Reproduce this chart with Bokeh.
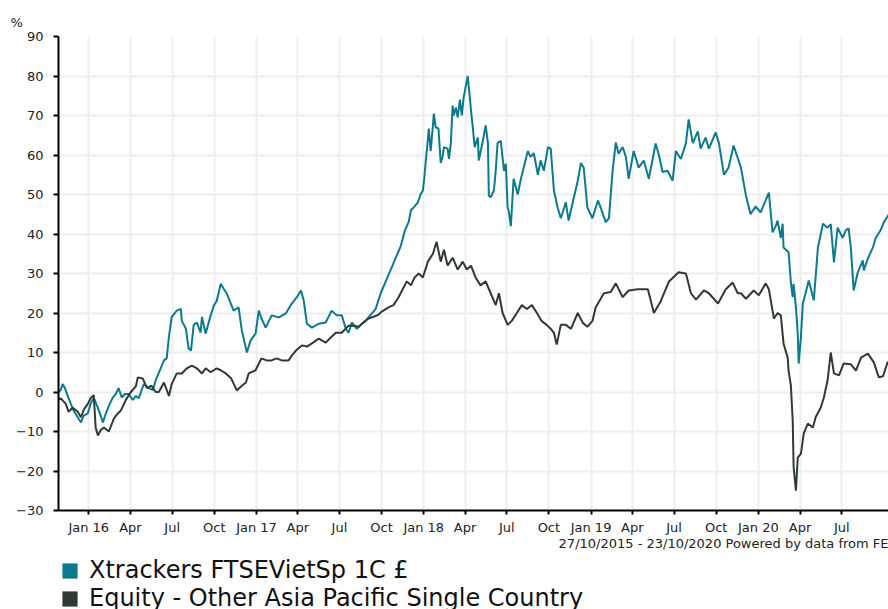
import pandas as pd
from bokeh.plotting import figure
from bokeh.layouts import column
from bokeh.models import Range1d, FixedTicker, Legend, LegendItem, Title
from bokeh.embed import file_html
from bokeh.resources import INLINE

series_names = ["Xtrackers FTSEVietSp 1C £", "Equity - Other Asia Pacific Single Country"]
series_colors = ["#0A7A8C", "#2F3A37"]

fund_dates = [
    "2015-10-27", "2015-11-01", "2015-11-05", "2015-11-10", "2015-11-16", "2015-11-23", "2015-11-29",
    "2015-12-08", "2015-12-15", "2015-12-21", "2015-12-30", "2016-01-05", "2016-01-12", "2016-01-21",
    "2016-01-27", "2016-02-01", "2016-02-07", "2016-02-14", "2016-02-22", "2016-02-29", "2016-03-06",
    "2016-03-13", "2016-03-20", "2016-03-28", "2016-04-06", "2016-04-13", "2016-04-19", "2016-04-30",
    "2016-05-11", "2016-05-20", "2016-05-26", "2016-06-06", "2016-06-13", "2016-06-19", "2016-06-24",
    "2016-06-30", "2016-07-11", "2016-07-20", "2016-07-22", "2016-07-31", "2016-08-06", "2016-08-11",
    "2016-08-17", "2016-08-24", "2016-09-01", "2016-09-04", "2016-09-12", "2016-09-23", "2016-09-30",
    "2016-10-06", "2016-10-15", "2016-10-22", "2016-10-28", "2016-11-06", "2016-11-12", "2016-11-23",
    "2016-11-30", "2016-12-11", "2016-12-19", "2016-12-30", "2017-01-06", "2017-01-12", "2017-01-21",
    "2017-02-03", "2017-02-19", "2017-03-06", "2017-03-19", "2017-03-30", "2017-04-08", "2017-04-14",
    "2017-04-21", "2017-05-02", "2017-05-17", "2017-06-01", "2017-06-14", "2017-06-25", "2017-07-06",
    "2017-07-15", "2017-07-21", "2017-07-28", "2017-08-08", "2017-08-17", "2017-08-27", "2017-09-07",
    "2017-09-18", "2017-09-29", "2017-10-10", "2017-10-21", "2017-11-01", "2017-11-12", "2017-11-21",
    "2017-11-29", "2017-12-04", "2017-12-12", "2017-12-19", "2017-12-25", "2017-12-30", "2018-01-02",
    "2018-01-05", "2018-01-10", "2018-01-12", "2018-01-16", "2018-01-21", "2018-01-23", "2018-01-27",
    "2018-02-02", "2018-02-07", "2018-02-11", "2018-02-14", "2018-02-22", "2018-02-25", "2018-03-01",
    "2018-03-05", "2018-03-07", "2018-03-12", "2018-03-16", "2018-03-21", "2018-03-25", "2018-03-29",
    "2018-04-07", "2018-04-14", "2018-04-18", "2018-04-22", "2018-04-29", "2018-05-01", "2018-05-10",
    "2018-05-16", "2018-05-21", "2018-05-23", "2018-05-27", "2018-06-03", "2018-06-07", "2018-06-11",
    "2018-06-18", "2018-06-25", "2018-06-29", "2018-07-03", "2018-07-05", "2018-07-10", "2018-07-16",
    "2018-07-25", "2018-08-01", "2018-08-07", "2018-08-16", "2018-08-22", "2018-08-29", "2018-09-07",
    "2018-09-13", "2018-09-20", "2018-09-29", "2018-10-05", "2018-10-12", "2018-10-20", "2018-10-27",
    "2018-11-07", "2018-11-13", "2018-11-24", "2018-12-03", "2018-12-10", "2018-12-16", "2018-12-24",
    "2019-01-04", "2019-01-16", "2019-01-22", "2019-02-02", "2019-02-09", "2019-02-17", "2019-02-24",
    "2019-03-02", "2019-03-11", "2019-03-18", "2019-03-24", "2019-04-04", "2019-04-15", "2019-04-26",
    "2019-05-07", "2019-05-22", "2019-05-29", "2019-06-06", "2019-06-17", "2019-06-28", "2019-07-05",
    "2019-07-16", "2019-07-27", "2019-08-02", "2019-08-11", "2019-08-22", "2019-08-28", "2019-09-08",
    "2019-09-15", "2019-09-30", "2019-10-07", "2019-10-18", "2019-10-28", "2019-11-08", "2019-11-24",
    "2019-12-05", "2019-12-15", "2019-12-26", "2020-01-06", "2020-01-17", "2020-01-24", "2020-02-01",
    "2020-02-08", "2020-02-12", "2020-02-19", "2020-02-23", "2020-02-25", "2020-03-07", "2020-03-12",
    "2020-03-16", "2020-03-18", "2020-03-23", "2020-03-27", "2020-03-29", "2020-04-03", "2020-04-07",
    "2020-04-13", "2020-04-20", "2020-05-01", "2020-05-10", "2020-05-21", "2020-05-31", "2020-06-07",
    "2020-06-14", "2020-06-22", "2020-07-03", "2020-07-10", "2020-07-16", "2020-07-21", "2020-07-27",
    "2020-08-05", "2020-08-16", "2020-08-18", "2020-08-27", "2020-09-07", "2020-09-13", "2020-09-24",
    "2020-10-01", "2020-10-12", "2020-10-23",
]
fund_values = [
    0, 0.5, 2, 1, -1, -3, -4.7,
    -6.4, -7.7, -6, -5.4, -3, -1.5, -4,
    -6, -7.7, -5.5, -3.5, -1.5, -0.5, 1,
    -1.4, -0.5, -0.5, -2, -1, -1.6, 2,
    1, 0.5, 3, 6, 8, 8.5, 14,
    19, 20.6, 21, 18, 16, 11, 10.5,
    17, 17.6, 15, 19, 14.8, 19.4, 21.9,
    23, 27.4, 26, 25, 22.4, 20.6, 21.4,
    15.6, 10, 13, 14.8, 20.6, 18.6, 16.3,
    19.4, 18.9, 19.9, 22.4, 24, 25.7, 23.2,
    17.3, 16.3, 17.3, 17.6, 20.6, 19.4, 19.4,
    16, 15, 17.6, 16, 17, 18, 19.5,
    21, 25, 28, 31, 34, 37, 41,
    43, 46, 47, 48, 50, 51, 54,
    58, 64, 66.7, 61, 67.5, 70.5, 67,
    66.7, 58, 59.5, 62, 61.6, 59, 63,
    72.5, 70, 72, 69.5, 74, 70, 74.6,
    80, 71.3, 67, 62, 64.4, 58.6, 63.6,
    67.5, 63, 49.7, 49.3, 51, 56, 63,
    63.6, 56, 57.8, 46.7, 46, 42, 54,
    50, 54, 56.8, 61, 59.5, 60.5, 55,
    58.6, 56, 62, 61.6, 51, 46.7, 44,
    48, 43.4, 49, 53.5, 58, 56.8, 46.7,
    44, 48.5, 46.7, 43, 44, 56, 63.2,
    60.3, 62, 59.5, 54, 61, 56.8, 58.6,
    54, 62.9, 60, 55.7, 56, 53.5, 61,
    59, 63, 69, 63, 66, 61.6, 64.4,
    61.6, 65.7, 63, 55, 56.8, 62.4, 56.8,
    49.7, 45, 47, 45.5, 48.5, 50.5, 40.4,
    42, 43.4, 39, 42.6, 36.6, 35.4, 27.7,
    24, 27.4, 21.4, 14.8, 7.2, 14, 22.4,
    25, 28.2, 23.2, 36.6, 42.6, 41.6, 42.5,
    32.8, 41.6, 39, 41, 41.4, 36.3, 25.7,
    30.3, 33.3, 30.8, 33.8, 36.6, 39, 41,
    43, 45, 46,
]

sector_dates = [
    "2015-10-27", "2015-11-01", "2015-11-12", "2015-11-18", "2015-11-27", "2015-12-08", "2015-12-15",
    "2015-12-21", "2015-12-30", "2016-01-05", "2016-01-12", "2016-01-16", "2016-01-21", "2016-01-27",
    "2016-02-03", "2016-02-14", "2016-02-25", "2016-03-04", "2016-03-11", "2016-03-22", "2016-04-02",
    "2016-04-13", "2016-04-17", "2016-04-28", "2016-05-07", "2016-05-17", "2016-05-26", "2016-06-02",
    "2016-06-13", "2016-06-24", "2016-06-30", "2016-07-11", "2016-07-22", "2016-08-02", "2016-08-13",
    "2016-08-24", "2016-09-04", "2016-09-12", "2016-09-23", "2016-10-06", "2016-10-15", "2016-10-26",
    "2016-11-07", "2016-11-19", "2016-11-30", "2016-12-09", "2016-12-15", "2016-12-30", "2017-01-06",
    "2017-01-12", "2017-01-23", "2017-02-03", "2017-02-14", "2017-02-25", "2017-03-12", "2017-03-19",
    "2017-03-28", "2017-04-10", "2017-04-21", "2017-05-02", "2017-05-17", "2017-06-01", "2017-06-12",
    "2017-06-23", "2017-07-06", "2017-07-21", "2017-08-01", "2017-08-12", "2017-08-21", "2017-09-01",
    "2017-09-12", "2017-09-23", "2017-10-03", "2017-10-17", "2017-10-27", "2017-11-07", "2017-11-16",
    "2017-11-25", "2017-12-04", "2017-12-12", "2017-12-21", "2017-12-30", "2018-01-10", "2018-01-21",
    "2018-01-29", "2018-02-07", "2018-02-14", "2018-02-22", "2018-03-05", "2018-03-16", "2018-03-27",
    "2018-04-05", "2018-04-14", "2018-04-24", "2018-05-05", "2018-05-16", "2018-05-27", "2018-06-07",
    "2018-06-14", "2018-06-22", "2018-07-03", "2018-07-12", "2018-07-23", "2018-08-03", "2018-08-14",
    "2018-08-25", "2018-09-05", "2018-09-15", "2018-09-26", "2018-10-05", "2018-10-12", "2018-10-18",
    "2018-10-27", "2018-11-07", "2018-11-18", "2018-12-03", "2018-12-14", "2018-12-24", "2019-01-04",
    "2019-01-11", "2019-01-29", "2019-02-13", "2019-02-24", "2019-03-11", "2019-03-24", "2019-04-13",
    "2019-05-05", "2019-05-18", "2019-06-02", "2019-06-20", "2019-07-11", "2019-07-27", "2019-08-07",
    "2019-08-18", "2019-09-04", "2019-09-15", "2019-10-05", "2019-10-22", "2019-11-06", "2019-11-17",
    "2019-11-24", "2019-12-05", "2019-12-22", "2020-01-02", "2020-01-17", "2020-01-24", "2020-02-01",
    "2020-02-04", "2020-02-12", "2020-02-19", "2020-02-25", "2020-03-05", "2020-03-07", "2020-03-12",
    "2020-03-16", "2020-03-18", "2020-03-23", "2020-03-27", "2020-04-03", "2020-04-09", "2020-04-18",
    "2020-04-29", "2020-05-05", "2020-05-16", "2020-05-23", "2020-05-31", "2020-06-07", "2020-06-14",
    "2020-06-25", "2020-07-05", "2020-07-21", "2020-08-01", "2020-08-12", "2020-08-27", "2020-09-09",
    "2020-09-20", "2020-09-29", "2020-10-09", "2020-10-23",
]
sector_values = [
    -2, -1.6, -3, -5, -4, -5, -6.4,
    -4.5, -3, -1.6, -0.8, -9, -11, -9.7,
    -9, -10, -6.7, -5.5, -4.7, -2, 0,
    1.5, 3.7, 3.4, 1, 1.6, 0, 0,
    2.4, -1, 2, 4.7, 4.7, 6, 6.7,
    6, 4.7, 6, 5, 6, 5.5, 4.7,
    3.4, 0.4, 1.6, 2.4, 4.7, 5.5, 7.2,
    8.5, 8, 8, 8.5, 8, 8, 9.2,
    10.5, 11.8, 11.5, 12.3, 13.5, 12.5, 13.8,
    15, 15, 16.8, 16.8, 16.5, 17.5, 18.5,
    19, 19.5, 20.5, 21.5, 22, 24, 26,
    28, 27, 29, 30, 29, 33, 35,
    38, 33, 36, 32, 34, 31, 33,
    31, 32, 29, 27, 28, 25, 22,
    25, 20, 17, 18, 20, 22, 21,
    22, 20, 18, 17, 16, 15, 12,
    17, 17, 16, 20, 17.5, 16.5, 18,
    21.4, 25, 25.3, 27.5, 24, 25.7, 26,
    26, 20, 23, 28, 30.3, 30, 25,
    23.4, 25.7, 25, 22.4, 26, 27.7, 25,
    25, 23.6, 25.7, 24.5, 27.5, 26, 20.6,
    18.6, 20, 19.4, 12.3, 8.7, 5.4, 1.6,
    -7.2, -19, -25, -16.6, -15.6, -10.5, -8,
    -9, -6.4, -4, -1.4, 2.9, 10, 4.7,
    4.2, 7.2, 7, 5.4, 8.7, 9.7, 7.5,
    3.7, 4, 7.5, 8,
]

tick_dates = [
    "2016-01-01", "2016-04-01", "2016-07-01", "2016-10-01",
    "2017-01-01", "2017-04-01", "2017-07-01", "2017-10-01",
    "2018-01-01", "2018-04-01", "2018-07-01", "2018-10-01",
    "2019-01-01", "2019-04-01", "2019-07-01", "2019-10-01",
    "2020-01-01", "2020-04-01", "2020-07-01",
]
tick_labels = [
    "Jan 16", "Apr", "Jul", "Oct",
    "Jan 17", "Apr", "Jul", "Oct",
    "Jan 18", "Apr", "Jul", "Oct",
    "Jan 19", "Apr", "Jul", "Oct",
    "Jan 20", "Apr", "Jul",
]
y_ticks = [-30, -20, -10, 0, 10, 20, 30, 40, 50, 60, 70, 80, 90]
unit_text = "%"
source_text = "27/10/2015 - 23/10/2020 Powered by data from FE"

FONT = "DejaVu Sans"

def to_ms(dates):
    idx = pd.to_datetime(dates)
    return [float(v) for v in (idx - pd.Timestamp("1970-01-01")) // pd.Timedelta("1ms")]

tick_ms = to_ms(tick_dates)

p = figure(
    width=888, height=555,
    x_axis_type="datetime",
    x_range=Range1d(start=pd.Timestamp("2015-10-27"), end=pd.Timestamp("2020-10-11")),
    y_range=Range1d(start=-30, end=90),
    output_backend="svg", toolbar_location=None,
    min_border_left=58, min_border_right=0, min_border_top=36, min_border_bottom=45,
)
p.outline_line_color = None
p.background_fill_color = "white"
p.border_fill_color = "white"

# axes
p.xaxis.ticker = FixedTicker(ticks=tick_ms)
p.xaxis.major_label_overrides = dict(zip(tick_ms, tick_labels))
p.yaxis.ticker = FixedTicker(ticks=y_ticks)
for ax in (p.xaxis[0], p.yaxis[0]):
    ax.axis_line_color = "black"
    ax.axis_line_width = 2
    ax.major_tick_line_color = "black"
    ax.major_tick_line_width = 2
    ax.major_tick_in = 0
    ax.minor_tick_line_color = None
    ax.major_label_text_font = FONT
    ax.major_label_text_font_size = "13px"
    ax.major_label_text_color = "#222222"
p.xaxis.major_tick_out = 4
p.xaxis.major_label_standoff = 5
p.yaxis.major_tick_out = 5
p.yaxis.major_label_standoff = 10

# grid
p.xgrid.ticker = FixedTicker(ticks=tick_ms)
p.ygrid.ticker = FixedTicker(ticks=y_ticks)
for g in (p.xgrid[0], p.ygrid[0]):
    g.grid_line_color = "#EEEEEE"
    g.grid_line_width = 2

# lines
p.line(pd.to_datetime(fund_dates), fund_values, line_color=series_colors[0], line_width=2)
p.line(pd.to_datetime(sector_dates), sector_values, line_color=series_colors[1], line_width=2)

# "%" unit above the y axis
p.add_layout(Title(text=unit_text, align="left", offset=-48, standoff=14,
                   text_font=FONT, text_font_size="13px", text_font_style="normal",
                   text_color="#222222"), "above")

# period / source line under the axis
p.add_layout(Title(text=source_text, align="right", offset=0, standoff=-7,
                   text_font=FONT, text_font_size="13px", text_font_style="normal",
                   text_color="#222222"), "below")

# legend strip underneath the chart (its frame is aligned with the chart frame)
lg = figure(width=888, height=54, output_backend="svg", toolbar_location=None,
            x_axis_location=None, y_axis_location=None,
            x_range=Range1d(0, 1), y_range=Range1d(0, 1),
            min_border_left=0, min_border_right=0, min_border_top=0, min_border_bottom=0)
lg.outline_line_color = None
lg.grid.visible = False
nan = float("nan")
# swatch-only renderers: a single undrawable (NaN) quad each, used as legend keys
sw1 = lg.quad(left=[nan], right=[nan], top=[nan], bottom=[nan],
              fill_color=series_colors[0], line_color=None)
sw2 = lg.quad(left=[nan], right=[nan], top=[nan], bottom=[nan],
              fill_color=series_colors[1], line_color=None)
legend = Legend(
    items=[LegendItem(label=series_names[0], renderers=[sw1]),
           LegendItem(label=series_names[1], renderers=[sw2])],
    location=(2, -3), orientation="vertical",
    padding=0, margin=0, spacing=-2,
    border_line_color=None, background_fill_alpha=0,
    glyph_width=19, glyph_height=19, label_standoff=10,
    label_text_font=FONT, label_text_font_size="24px", label_text_color="#111111",
)
lg.add_layout(legend)

open("out.html", "w").write(file_html(column(p, lg, spacing=0), INLINE))
